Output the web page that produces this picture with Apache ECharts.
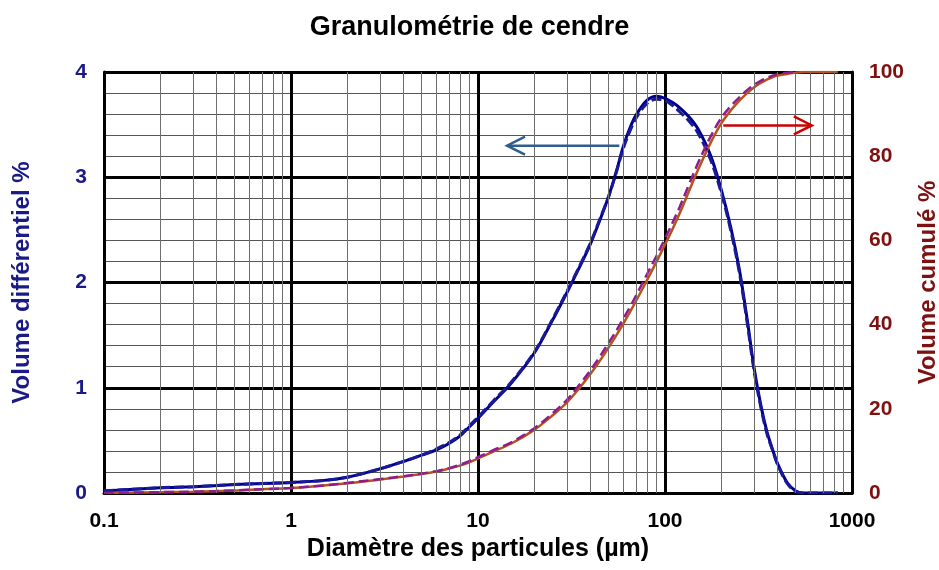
<!DOCTYPE html>
<html>
<head>
<meta charset="utf-8">
<title>Granulométrie de cendre</title>
<script src="https://cdn.jsdelivr.net/npm/echarts@6/dist/echarts.min.js"></script>
<style>
  html, body { margin: 0; padding: 0; background: #fff; }
  #chart { width: 939px; height: 570px; }
</style>
</head>
<body>
<div id="chart"></div>
<script>
const diameters = [0.1, 0.2, 0.3, 0.5, 0.7, 1, 1.5, 2, 3, 4, 5, 6, 7, 8, 9, 10, 12, 15, 20, 25,
  30, 35, 40, 45, 50, 55, 60, 65, 70, 80, 90, 100, 110, 120, 135, 150, 175, 200, 225, 250,
  275, 300, 325, 350, 375, 400, 450, 500, 550, 600, 700, 840]

// volume différentiel % (deux mesures)
const diffA = [0.02, 0.05, 0.06, 0.08, 0.09, 0.10, 0.12, 0.15, 0.23, 0.30, 0.36, 0.41, 0.47, 0.54, 0.63, 0.71, 0.86, 1.04, 1.33, 1.64,
  1.91, 2.15, 2.37, 2.60, 2.82, 3.06, 3.30, 3.47, 3.59, 3.73, 3.77, 3.75, 3.71, 3.66, 3.57, 3.46, 3.21, 2.88, 2.52, 2.12,
  1.65, 1.18, 0.84, 0.59, 0.42, 0.28, 0.10, 0.02, 0, 0, 0, 0]
const diffB = [0.02, 0.05, 0.06, 0.08, 0.09, 0.10, 0.12, 0.15, 0.23, 0.30, 0.36, 0.42, 0.48, 0.55, 0.64, 0.72, 0.87, 1.05, 1.34, 1.65,
  1.92, 2.16, 2.38, 2.61, 2.82, 3.05, 3.28, 3.44, 3.56, 3.70, 3.74, 3.73, 3.68, 3.62, 3.53, 3.42, 3.17, 2.85, 2.49, 2.09,
  1.62, 1.15, 0.82, 0.57, 0.41, 0.27, 0.09, 0.015, 0, 0, 0, 0]

// volume cumulé % (deux mesures)
const cumA = [0, 0.2, 0.3, 0.6, 0.9, 1.2, 1.8, 2.3, 3.2, 3.9, 4.5, 5.1, 5.8, 6.5, 7.3, 8.2, 9.8, 11.7, 15.0, 18.4,
  21.6, 25.0, 28.3, 31.5, 34.6, 37.5, 40.3, 43.0, 45.6, 50.5, 54.9, 59.0, 62.8, 66.5, 71.9, 76.7, 83.1, 87.8, 90.9, 93.2,
  95.0, 96.4, 97.4, 98.2, 98.75, 99.15, 99.55, 99.85, 100, 100, 100, 100]
const cumB = [0, 0.2, 0.3, 0.6, 0.9, 1.2, 1.8, 2.4, 3.3, 4.0, 4.6, 5.2, 5.9, 6.7, 7.6, 8.5, 10.1, 12.0, 15.4, 18.9,
  22.2, 25.8, 29.2, 32.5, 35.7, 38.6, 41.5, 44.2, 46.9, 51.9, 56.3, 60.4, 64.3, 68.0, 73.5, 78.3, 84.6, 89.1, 91.9, 94.0,
  95.7, 97.0, 97.9, 98.6, 99.1, 99.5, 99.85, 100]

// lignes de grille secondaires (2..9 par décade)
const decades = [0.1, 1, 10, 100]
const minorSteps = [2, 3, 4, 5, 6, 7, 8, 9]
const minorX = []
decades.forEach(dec => minorSteps.forEach(k => minorX.push(+(dec * k).toPrecision(3))))

// flèches d'annotation (coordonnées données)
const arrowLeft = { from: [57, 3.30], to: [14.3, 3.30] }
const arrowRight = { from: [205, 87.3], to: [610, 87.3] }

const pairs = (xs, ys) => ys.map((y, i) => [xs[i], y])

const chart = echarts.init(document.getElementById('chart'))

const fontFam = 'Liberation Sans, Arial, sans-serif'

const option = {
  animation: false,
  textStyle: { fontFamily: fontFam },
  title: {
    text: 'Granulométrie de cendre',
    left: 'center',
    top: 9,
    textStyle: { fontSize: 27, fontWeight: 'bold', color: '#000', fontFamily: fontFam }
  },
  grid: { left: 104, right: 87, top: 72, bottom: 77, outerBoundsMode: 'none', containLabel: false },
  xAxis: {
    type: 'log',
    logBase: 10,
    min: 0.1,
    max: 1000,
    name: 'Diamètre des particules (µm)',
    nameLocation: 'middle',
    nameGap: 44,
    nameTextStyle: { fontSize: 25, fontWeight: 'bold', color: '#000' },
    axisLine: { show: true, lineStyle: { color: '#000', width: 3 } },
    axisTick: { show: false },
    axisLabel: {
      fontSize: 21, fontWeight: 'bold', color: '#000', margin: 18,
      formatter: v => String(+v.toPrecision(3))
    },
    splitLine: { show: true, lineStyle: { color: '#000', width: 3 } }
  },
  yAxis: [
    {
      type: 'value',
      min: 0,
      max: 4,
      interval: 1,
      name: 'Volume différentiel %',
      nameLocation: 'middle',
      nameGap: 70,
      nameTextStyle: { fontSize: 24, fontWeight: 'bold', color: '#1A1A86' },
      axisLine: { show: true, lineStyle: { color: '#000', width: 3 } },
      axisTick: { show: false },
      axisLabel: { fontSize: 21, fontWeight: 'bold', color: '#1A1A86', margin: 17 },
      splitLine: { show: true, lineStyle: { color: '#000', width: 3 } },
      minorTick: { show: false, splitNumber: 5 },
      minorSplitLine: { show: true, lineStyle: { color: '#555', width: 1 } }
    },
    {
      type: 'value',
      min: 0,
      max: 100,
      interval: 20,
      name: 'Volume cumulé %',
      nameLocation: 'middle',
      nameGap: 64,
      nameTextStyle: { fontSize: 24, fontWeight: 'bold', color: '#7F1010' },
      axisLine: { show: true, lineStyle: { color: '#000', width: 3 } },
      axisTick: { show: false },
      axisLabel: { fontSize: 21, fontWeight: 'bold', color: '#7F1010', margin: 17 },
      splitLine: { show: false }
    }
  ],
  series: [
    {
      name: 'grille',
      type: 'line',
      data: [],
      silent: true,
      z: 1,
      markLine: {
        silent: true,
        symbol: ['none', 'none'],
        label: { show: false },
        lineStyle: { color: '#6e6e6e', width: 1, type: 'solid' },
        data: minorX.map(v => ({ xAxis: v }))
      }
    },
    {
      name: 'Différentiel 1',
      type: 'line',
      yAxisIndex: 0,
      smooth: 0.35,
      showSymbol: false,
      z: 3,
      lineStyle: { color: '#00008F', width: 3 },
      data: pairs(diameters, diffA)
    },
    {
      name: 'Différentiel 2',
      type: 'line',
      yAxisIndex: 0,
      smooth: 0.35,
      showSymbol: false,
      z: 4,
      lineStyle: { color: '#1A1A99', width: 3, type: [10, 4] },
      data: pairs(diameters, diffB)
    },
    {
      name: 'Cumulé 1',
      type: 'line',
      yAxisIndex: 1,
      smooth: 0.35,
      showSymbol: false,
      z: 3,
      lineStyle: { color: '#B8521C', width: 2.5 },
      data: pairs(diameters, cumA)
    },
    {
      name: 'Cumulé 2',
      type: 'line',
      yAxisIndex: 1,
      smooth: 0.35,
      showSymbol: false,
      z: 4,
      lineStyle: { color: '#8E1C8E', width: 2.5, type: [10, 5] },
      data: pairs(diameters, cumB)
    }
  ]
}

chart.setOption(option)

function arrowGraphic(a, yIdx, color) {
  const p0 = chart.convertToPixel({ xAxisIndex: 0, yAxisIndex: yIdx }, a.from)
  const p1 = chart.convertToPixel({ xAxisIndex: 0, yAxisIndex: yIdx }, a.to)
  const dir = p1[0] > p0[0] ? 1 : -1
  const style = { stroke: color, lineWidth: 2.5, fill: null }
  return [
    { type: 'polyline', z: 10, shape: { points: [p0, p1] }, style: style },
    {
      type: 'polyline', z: 10,
      shape: { points: [[p1[0] - dir * 18, p1[1] - 9], p1, [p1[0] - dir * 18, p1[1] + 9]] },
      style: style
    }
  ]
}

chart.setOption({
  graphic: [].concat(
    arrowGraphic(arrowLeft, 0, '#2E5E8E'),
    arrowGraphic(arrowRight, 1, '#CC0000')
  )
})
</script>
</body>
</html>
